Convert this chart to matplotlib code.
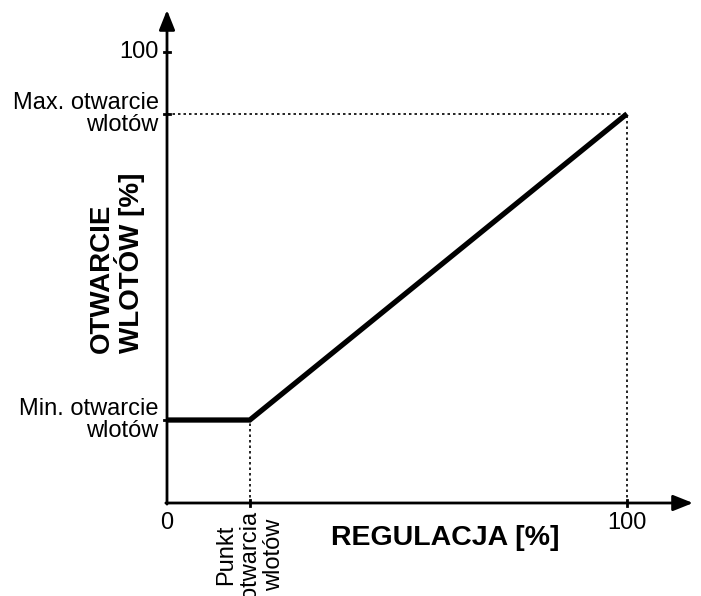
import matplotlib.pyplot as plt

plt.rcParams['font.family'] = ['Liberation Sans', 'DejaVu Sans']

# characteristic curve
x_points = [0, 18, 100]
y_points = [18.4, 18.4, 86.3]

x_ticks = [0, 18, 100]
x_labels = ['0', 'Punkt\notwarcia\nwlotów', '100']
y_ticks = [100, 86.3, 18.4]
y_labels = ['100', 'Max. otwarcie\nwlotów', 'Min. otwarcie\nwlotów']

fig = plt.figure(figsize=(7.01, 5.96), dpi=100)
ax = fig.add_axes([0, 0, 1, 1])
ax.axis('off')

# pixel -> data mapping (origin at 167,503 px)
x0px, sx = 167, 4.6
y0px, sy = 503, 4.51
ax.set_xlim(-x0px / sx, (701 - x0px) / sx)
ax.set_ylim(-(596 - y0px) / sy, y0px / sy)

x_end = (693 - x0px) / sx
y_end = (y0px - 10) / sy

# axes with arrows
arr = dict(arrowstyle='-|>,head_length=1.2,head_width=0.48',
           color='black', lw=2.0, shrinkA=0, shrinkB=0)
ax.annotate('', xy=(x_end, 0), xytext=(-0.25, 0), arrowprops=arr)
ax.annotate('', xy=(0, y_end), xytext=(0, -0.25), arrowprops=arr)

# dotted guides
dot = dict(color='black', lw=1.2, linestyle=(0, (1.5, 1.8)))
ax.plot([x_points[1], x_points[1]], [0, y_points[1]], **dot)
ax.plot([0, x_points[2]], [y_points[2], y_points[2]], **dot)
ax.plot([x_points[2], x_points[2]], [0, y_points[2]], **dot)

# main line
ax.plot(x_points, y_points, color='black', lw=3.8, solid_capstyle='butt',
        solid_joinstyle='miter')

# tick marks
tl = 0.7
for yt in y_ticks:
    ax.plot([-tl, tl], [yt, yt], color='black', lw=2)
for xt in x_ticks[1:]:
    ax.plot([xt, xt], [-tl, tl], color='black', lw=2)

fs = 17
ax.text(-1.8, y_ticks[0], y_labels[0], ha='right', va='center', fontsize=fs)
for yt, lab in zip(y_ticks[1:], y_labels[1:]):
    ax.text(-1.8, yt, lab, ha='right', va='center', fontsize=fs,
            multialignment='right', linespacing=1.0)

ax.text(x_ticks[0], -2.0, x_labels[0], ha='center', va='top', fontsize=fs)
ax.text(x_ticks[2], -2.0, x_labels[2], ha='center', va='top', fontsize=fs)
ax.text(x_ticks[1] + 0.1, -1.8, x_labels[1], ha='center', va='top', fontsize=fs,
        rotation=90, multialignment='center', linespacing=1.1)

ax.text((445 - x0px) / sx, -(538 - y0px) / sy, 'REGULACJA [%]', ha='center',
        va='center', fontsize=20.5, fontweight='bold')
ax.text((117 - x0px) / sx, (y0px - 263) / sy, 'OTWARCIE\nWLOTÓW [%]',
        ha='center', va='center', rotation=90, fontsize=20,
        fontweight='bold', multialignment='left', linespacing=0.95)

fig.savefig('out.png', dpi=100)
